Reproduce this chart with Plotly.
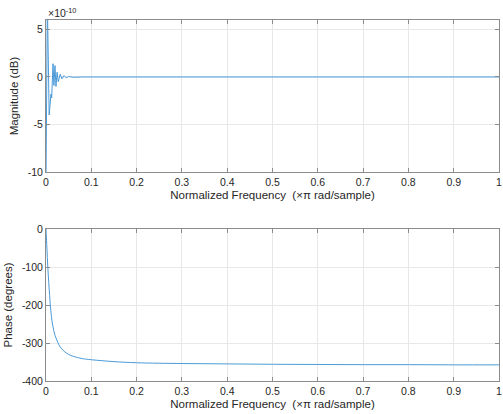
import plotly.graph_objects as go
from plotly.subplots import make_subplots

# Magnitude response (values in units of 1e-10 dB)
mag_freq = [0.0, 0.003, 0.007, 0.011, 0.0125, 0.0155, 0.0175, 0.0198, 0.022,
            0.0245, 0.027, 0.0315, 0.035, 0.04, 0.045, 0.05, 0.06, 0.07, 0.08, 1.0]
mag_e10 = [-11.0, 8.0, -4.0, -1.8, -2.2, 1.4, -0.9, 1.2, -1.0,
           0.5, -0.5, 0.3, -0.2, 0.15, -0.1, 0.05, -0.03, 0.02, 0.0, 0.0]

# Phase response (degrees)
ph_freq = [0.0, 0.002, 0.004, 0.006, 0.008, 0.0095, 0.012, 0.015, 0.02, 0.026,
           0.03, 0.04, 0.05, 0.06, 0.08, 0.1, 0.15, 0.2, 0.3, 0.4, 0.5, 0.6,
           0.7, 0.8, 0.9, 1.0]
phase_deg = [0, -50, -100, -140, -175, -200, -230, -255, -280, -298,
             -308, -322, -330, -335, -341, -344, -349, -352, -354, -355, -356, -356.5,
             -357, -357, -357.5, -357.5]

x_ticks = [0, 0.1, 0.2, 0.3, 0.4, 0.5, 0.6, 0.7, 0.8, 0.9, 1]
x_labels = ["0", "0.1", "0.2", "0.3", "0.4", "0.5", "0.6", "0.7", "0.8", "0.9", "1"]
mag_ticks = [-10, -5, 0, 5]
mag_labels = ["-10", "-5", "0", "5"]
ph_ticks = [-400, -300, -200, -100, 0]
ph_labels = ["-400", "-300", "-200", "-100", "0"]

line_color = "#4a9ad8"
FONT = "Liberation Sans, Arial, Helvetica, sans-serif"
TXT = "#262626"

fig = make_subplots(rows=2, cols=1, vertical_spacing=0.158)
fig.add_trace(go.Scatter(x=mag_freq, y=mag_e10, mode="lines",
                         line=dict(color=line_color, width=1)), row=1, col=1)
fig.add_trace(go.Scatter(x=ph_freq, y=phase_deg, mode="lines", line_shape="spline",
                         line=dict(color=line_color, width=1)), row=2, col=1)

axis_common = dict(showline=True, linecolor="#8c8c8c", linewidth=1, mirror="ticks",
                   ticks="inside", ticklen=4, tickcolor="#8c8c8c",
                   showgrid=True, gridcolor="#e8e8e8", gridwidth=1, zeroline=False,
                   tickfont=dict(family=FONT, size=10.5, color=TXT))

for r in (1, 2):
    fig.update_xaxes(range=[0, 1], tickvals=x_ticks, ticktext=x_labels,
                     ticklabelstandoff=0, ticklabeloverflow="allow",
                     title=dict(text="Normalized Frequency  (\u00d7\u03c0 rad/sample)",
                                font=dict(family=FONT, size=11.5, color=TXT), standoff=4),
                     **axis_common, row=r, col=1)

fig.update_yaxes(range=[-10, 6], tickvals=mag_ticks, ticktext=mag_labels,
                 title=dict(text="Magnitude (dB)", font=dict(family=FONT, size=11.5, color=TXT),
                            standoff=6),
                 **axis_common, row=1, col=1)
fig.update_yaxes(range=[-400, 0], tickvals=ph_ticks, ticktext=ph_labels,
                 title=dict(text="Phase (degrees)", font=dict(family=FONT, size=11.5, color=TXT),
                            standoff=6),
                 **axis_common, row=2, col=1)

fig.add_annotation(text="\u00d710<sup>-10</sup>", xref="paper", yref="paper",
                   x=0, y=1, xanchor="left", yanchor="bottom", showarrow=False,
                   font=dict(family=FONT, size=10.5, color=TXT), yshift=-1)

fig.update_layout(width=503, height=414, showlegend=False,
                  margin=dict(l=46, r=1, t=20, b=33),
                  paper_bgcolor="white", plot_bgcolor="white")

fig.write_html("out.html", config={"displayModeBar": False},
               post_script="document.body.style.margin='0';document.body.style.overflow='hidden';")
